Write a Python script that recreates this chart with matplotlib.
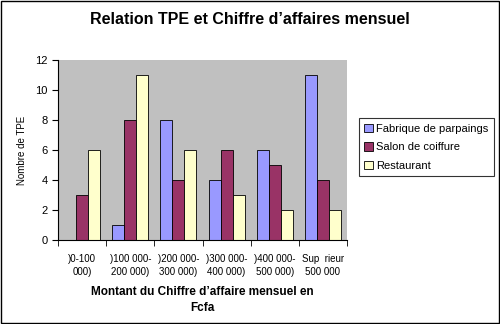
import matplotlib
matplotlib.use("Agg")
import matplotlib.pyplot as plt
import numpy as np

categories = [")0-100\n000)", ")100 000-\n200 000)", ")200 000-\n300 000)", ")300 000-\n400 000)", ")400 000-\n500 000)", "Sup  rieur\n500 000"]
fabrique = [0, 1, 8, 4, 6, 11]
salon = [3, 8, 4, 6, 5, 4]
restaurant = [6, 11, 6, 3, 2, 2]
series_names = ["Fabrique de parpaings", "Salon de coiffure", "Restaurant"]
colors = ["#9999FF", "#993366", "#FFFFCC"]

plt.rcParams['font.family'] = ['Liberation Sans', 'DejaVu Sans']
fig = plt.figure(figsize=(5, 3.24), dpi=100)
fig.patch.set_facecolor("white")
fig.patches.append(plt.Rectangle((0.002, 0.003), 0.996, 0.994, transform=fig.transFigure,
                                 fill=False, edgecolor="black", linewidth=1))
ax = fig.add_axes([0.116, 0.259, 0.578, 0.556])
ax.set_facecolor("#C0C0C0")
x = np.arange(len(categories))
w = 0.25
handles = []
for i, (vals, c, n) in enumerate(zip([fabrique, salon, restaurant], colors, series_names)):
    h = ax.bar(x + (i - 1) * w, vals, w, color=c, edgecolor="black", linewidth=0.6, label=n)
    handles.append(h)
ax.set_xlim(-0.5, len(categories) - 0.5)
ax.set_ylim(0, 12)
ax.set_yticks(range(0, 13, 2))
ax.set_xticks(x)
ax.set_xticklabels(categories, fontsize=7, linespacing=1.4)
ax.set_xticks(np.arange(-0.5, len(categories), 1), minor=True)
ax.tick_params(axis='x', which='major', length=0, pad=10)
ax.tick_params(axis='x', which='minor', length=4, direction='out')
ax.tick_params(axis='y', labelsize=8, length=4, direction='out')
for s in ["top", "right"]:
    ax.spines[s].set_visible(False)
ax.spines["left"].set_color("black")
ax.spines["bottom"].set_color("black")
ax.set_ylabel("Nombre de TPE", fontsize=7, labelpad=6)
ax.set_xlabel("Montant du Chiffre d\u2019affaire mensuel en\nFcfa", fontsize=8.5, fontweight="bold",
              labelpad=6, linespacing=1.5)
fig.text(0.5, 0.94, "Relation TPE et Chiffre d\u2019affaires mensuel", ha="center", va="center",
         fontsize=11.5, fontweight="bold")
leg = fig.legend(handles=handles, loc="center left", bbox_to_anchor=(0.706, 0.545), fontsize=8,
                 frameon=True, fancybox=False, edgecolor="black", handlelength=0.8, handleheight=0.8,
                 handletextpad=0.3, borderpad=0.5, labelspacing=0.75)
leg.get_frame().set_linewidth(0.8)
fig.savefig("out.png", dpi=100, facecolor="white")
